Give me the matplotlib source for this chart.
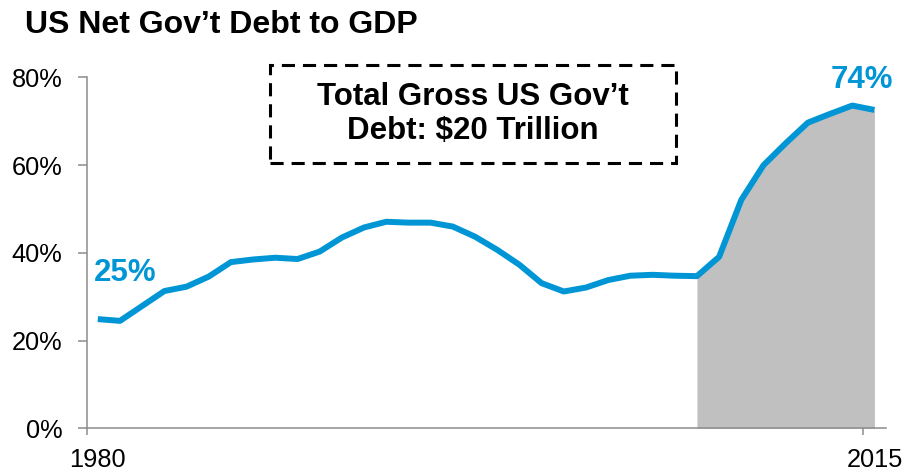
import matplotlib.pyplot as plt
from matplotlib.patches import Rectangle
import numpy as np

plt.rcParams['font.family'] = ['Liberation Sans', 'DejaVu Sans']

# net government debt as % of GDP, one value per year
years = list(range(1980, 2016))
debt_pct = [24.9, 24.5, 27.9, 31.3, 32.3, 34.6, 37.9, 38.5, 38.9, 38.6,
            40.3, 43.5, 45.8, 47.1, 46.9, 46.9, 46.0, 43.7, 40.7, 37.3,
            33.1, 31.2, 32.1, 33.8, 34.8, 35.0, 34.8, 34.7, 39.1, 52.1,
            60.0, 65.0, 69.7, 71.7, 73.6, 72.6]
shade_from = 2007
y_ticks = [0, 20, 40, 60, 80]
x_labels = [1980, 2015]

blue = '#0096d6'
axis_gray = '#8c8c8c'

fig = plt.figure(figsize=(9.05, 4.76), dpi=100)
ax = fig.add_axes([0.0958, 0.1002, 0.8827, 0.737])

yrs = np.array(years)
vals = np.array(debt_pct)
mask = yrs >= shade_from
ax.fill_between(yrs[mask], 0, vals[mask], color='#c0c0c0', lw=0, zorder=1)
ax.plot(yrs, vals, color=blue, lw=4.3, solid_capstyle='butt',
        solid_joinstyle='round', zorder=3)

ax.set_xlim(years[0] - 0.5, years[-1] + 0.5)
ax.set_ylim(0, 80)

for side in ['top', 'right']:
    ax.spines[side].set_visible(False)
for side in ['left', 'bottom']:
    ax.spines[side].set_color(axis_gray)
    ax.spines[side].set_linewidth(1.1)

ax.set_yticks(y_ticks)
ax.set_yticklabels([f'{t}%' for t in y_ticks])
ax.tick_params(axis='y', direction='out', length=6.5, width=1.1,
               color=axis_gray, pad=11, labelsize=18.3)

ax.set_xticks(x_labels)
ax.set_xticklabels([str(x) for x in x_labels])
ax.set_xticks([x_labels[0] - 0.5, x_labels[1] - 0.5], minor=True)
ax.tick_params(axis='x', which='major', length=0, pad=14, labelsize=18.3)
ax.tick_params(axis='x', which='minor', direction='out', length=5,
               width=1.1, color=axis_gray)

# value callouts at the start and the peak
ax.annotate(f'{debt_pct[0]:.0f}%', xy=(years[0], debt_pct[0]),
            xytext=(19.5, 33.5), textcoords='offset points',
            ha='center', va='center', fontsize=22.5, fontweight='bold',
            color=blue)
i_max = int(np.argmax(vals))
ax.annotate(f'{debt_pct[i_max]:.0f}%', xy=(years[i_max], debt_pct[i_max]),
            xytext=(7, 18.5), textcoords='offset points',
            ha='center', va='center', fontsize=22.5, fontweight='bold',
            color=blue, annotation_clip=False)

# dashed callout box
box = Rectangle((0.2295, 0.7563), 0.5082, 0.2793, transform=ax.transAxes,
                fill=False, ec='black', lw=2.2, ls=(0, (4.3, 2.6)),
                clip_on=False, zorder=4)
ax.add_patch(box)
ax.text(0.4836, 0.896, 'Total Gross US Gov\u2019t\nDebt: $20 Trillion',
        transform=ax.transAxes, ha='center', va='center', fontsize=22.5,
        fontweight='bold', linespacing=1.15)

fig.text(25 / 905, 1 - 33 / 476, 'US Net Gov\u2019t Debt to GDP',
         ha='left', va='baseline', fontsize=23, fontweight='bold')

fig.savefig('out.png', dpi=100)
